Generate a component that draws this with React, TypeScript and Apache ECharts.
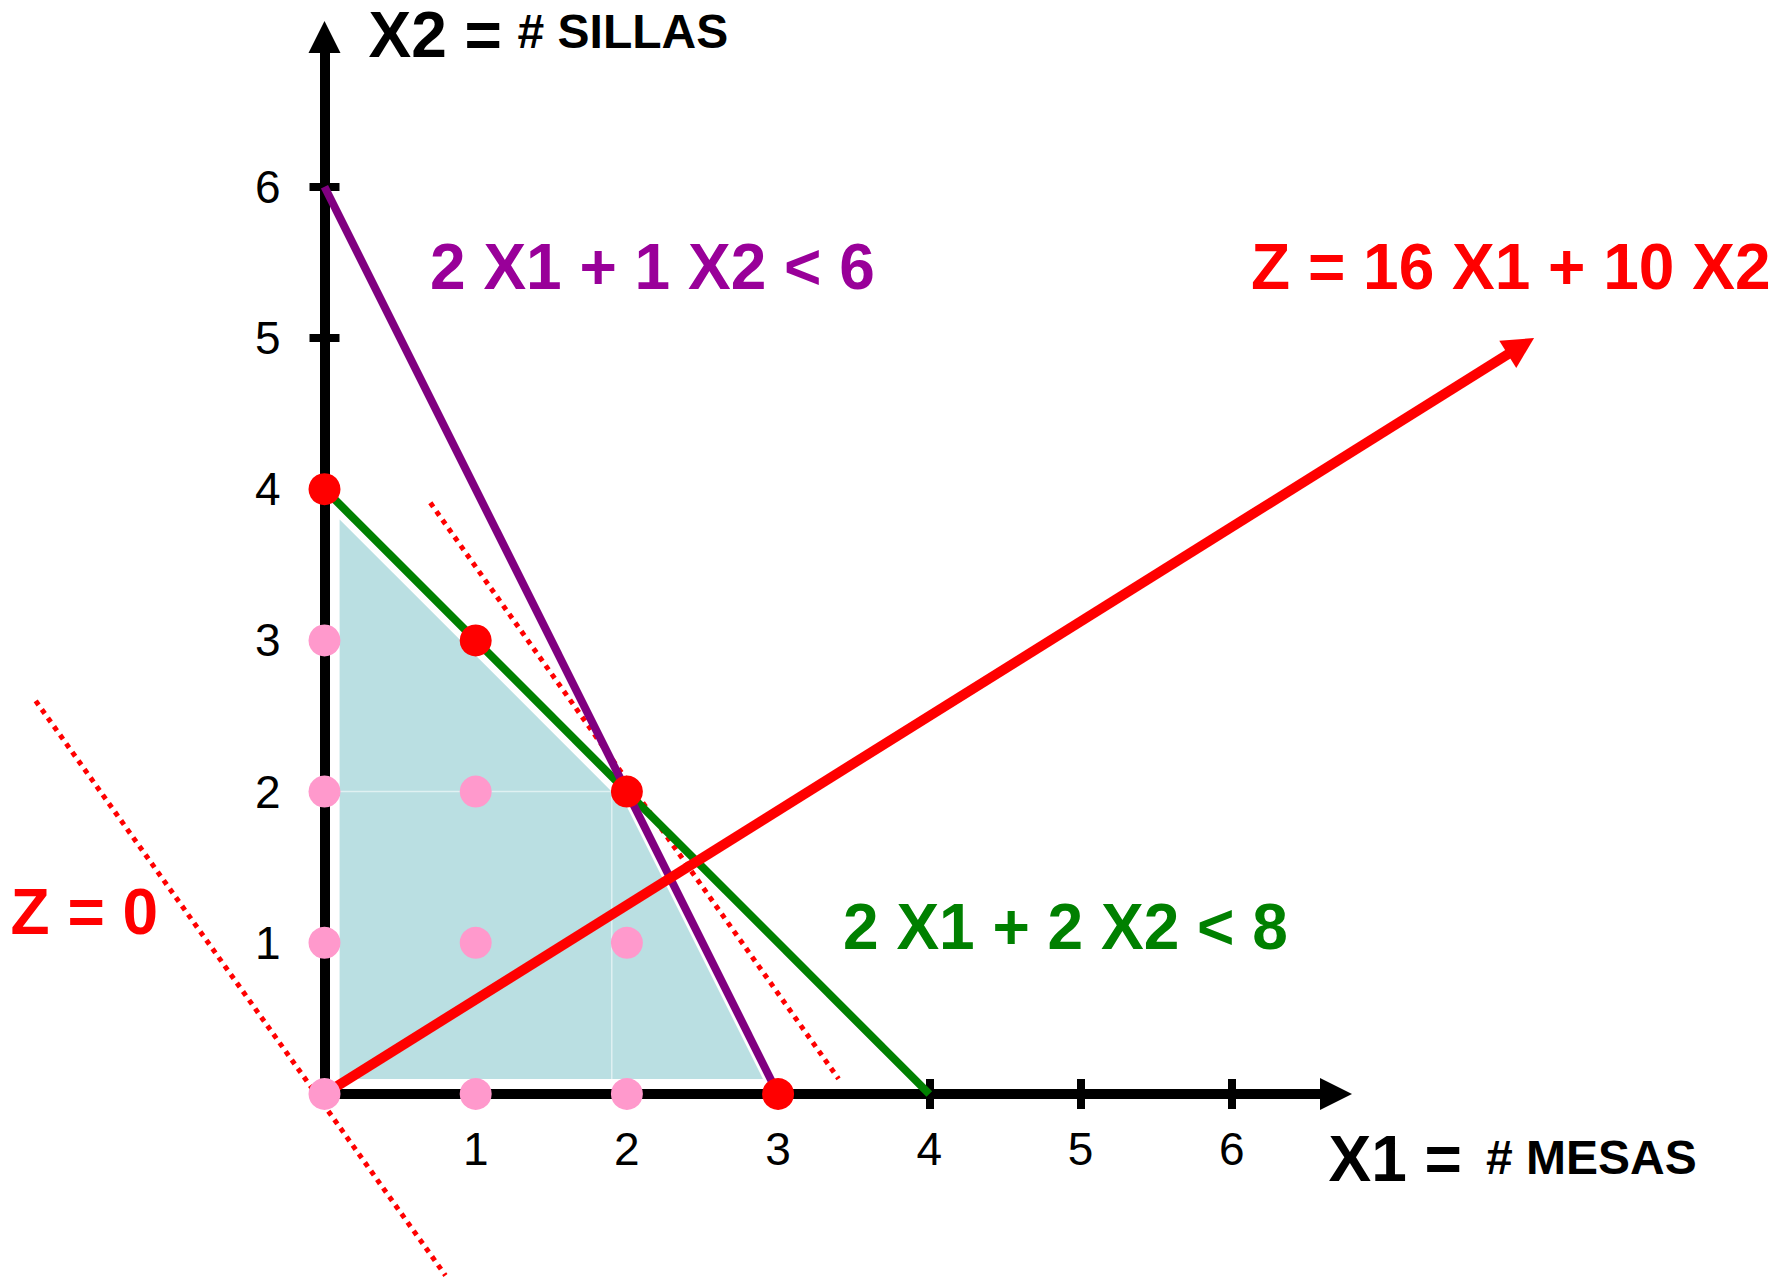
import React, { useEffect, useRef } from "react";
import * as echarts from "echarts";

// ---- data (in chart units: X1 = # mesas, X2 = # sillas) ----
const X_TICKS = [1, 2, 3, 4, 5, 6];
const Y_TICKS = [1, 2, 3, 4, 5, 6];

// feasible region (drawn slightly inset, as in the picture)
const REGION = [
  [0.1, 0.1],
  [2.9, 0.1],
  [2.0, 1.9],
  [0.1, 3.8],
];
const REGION_SEAMS = [
  [[1.9, 0.1], [1.9, 2.0]],
  [[0.1, 2.0], [1.9, 2.0]],
];

// constraints
const GREEN_CONSTRAINT = [[0, 4], [4, 0]]; // 2 X1 + 2 X2 < 8
const PURPLE_CONSTRAINT = [[0, 6], [3, 0]]; // 2 X1 + 1 X2 < 6

// objective direction
const Z_ARROW = [[0, 0], [8, 5]];

// iso-profit dotted lines
const Z0_LINE = [[-1.91, 2.6], [0.8, -1.2]];
const ZOPT_LINE = [[0.7, 3.91], [3.4, 0.1]];

// integer points
const RED_POINTS = [[0, 4], [1, 3], [2, 2], [3, 0]];
const PINK_POINTS = [
  [0, 0], [1, 0], [2, 0],
  [0, 1], [1, 1], [2, 1],
  [0, 2], [1, 2],
  [0, 3],
];

const FONT = '"Liberation Sans", Arial, Helvetica, sans-serif';

function segmentSeries(segs: number[][][], color: string, width: number, dash: number[] | null, z: number) {
  return {
    type: "custom",
    z,
    clip: false,
    silent: true,
    data: segs.map((s) => [s[0][0], s[0][1], s[1][0], s[1][1]]),
    encode: { x: [0, 2], y: [1, 3] },
    renderItem: (_params: any, api: any) => {
      const p1 = api.coord([api.value(0), api.value(1)]);
      const p2 = api.coord([api.value(2), api.value(3)]);
      return {
        type: "line",
        shape: { x1: p1[0], y1: p1[1], x2: p2[0], y2: p2[1] },
        style: {
          stroke: color,
          lineWidth: width,
          lineDash: dash || undefined,
          lineCap: "butt",
          fill: null,
        },
      };
    },
  };
}

export default function App() {
  const ref = useRef<HTMLDivElement>(null);

  useEffect(() => {
    if (!ref.current) return;
    const chart = echarts.init(ref.current, undefined, { renderer: "svg" });

    const axisLabelStyle = {
      color: "#000",
      fontSize: 46,
      fontFamily: FONT,
      fontWeight: "normal",
    };
    const tickStyle = { color: "#000", width: 8 };

    const option: any = {
      animation: false,
      backgroundColor: "#fff",
      grid: {
        left: 324.5,
        right: 453,
        top: 37.1,
        bottom: 185,
        containLabel: false,
        outerBoundsMode: "none",
      },
      xAxis: [
        {
          type: "value",
          min: 0,
          max: 6.69,
          position: "bottom",
          axisLine: {
            show: true,
            onZero: false,
            symbol: ["none", "triangle"],
            symbolSize: [32, 32],
            lineStyle: { color: "#000", width: 10 },
          },
          axisTick: { show: true, customValues: X_TICKS, length: 15, inside: false, lineStyle: tickStyle },
          axisLabel: { show: true, customValues: X_TICKS, margin: 32, ...axisLabelStyle },
          splitLine: { show: false },
        },
        {
          type: "value",
          min: 0,
          max: 6.69,
          position: "bottom",
          axisLine: { show: false, onZero: false },
          axisTick: { show: true, customValues: X_TICKS, length: 15, inside: true, lineStyle: tickStyle },
          axisLabel: { show: false },
          splitLine: { show: false },
        },
      ],
      yAxis: [
        {
          type: "value",
          min: 0,
          max: 6.99,
          position: "left",
          axisLine: {
            show: true,
            onZero: false,
            symbol: ["none", "triangle"],
            symbolSize: [32, 32],
            lineStyle: { color: "#000", width: 10 },
          },
          axisTick: { show: true, customValues: Y_TICKS, length: 15, inside: false, lineStyle: tickStyle },
          axisLabel: { show: true, customValues: Y_TICKS, margin: 44, ...axisLabelStyle },
          splitLine: { show: false },
        },
        {
          type: "value",
          min: 0,
          max: 6.99,
          position: "left",
          axisLine: { show: false, onZero: false },
          axisTick: { show: true, customValues: Y_TICKS, length: 15, inside: true, lineStyle: tickStyle },
          axisLabel: { show: false },
          splitLine: { show: false },
        },
      ],
      series: [
        // feasible region
        {
          type: "custom",
          z: 1,
          clip: false,
          silent: true,
          data: REGION,
          encode: { x: 0, y: 1 },
          renderItem: (params: any, api: any) => {
            if (params.dataIndex !== 0) return null;
            const pts = REGION.map((p) => api.coord(p));
            const seams = REGION_SEAMS.map((s) => {
              const a = api.coord(s[0]);
              const b = api.coord(s[1]);
              return {
                type: "line",
                shape: { x1: a[0], y1: a[1], x2: b[0], y2: b[1] },
                style: { stroke: "rgba(255,255,255,0.55)", lineWidth: 1.5, fill: null },
              };
            });
            return {
              type: "group",
              children: [
                { type: "polygon", shape: { points: pts }, style: { fill: "#BADFE2", stroke: null } },
                ...seams,
              ],
            };
          },
        },
        // dotted iso-profit lines
        segmentSeries([Z0_LINE, ZOPT_LINE], "#FF0000", 5, [5, 5.5], 2),
        // constraints
        segmentSeries([GREEN_CONSTRAINT], "#008000", 8, null, 3),
        segmentSeries([PURPLE_CONSTRAINT], "#800080", 8, null, 3),
        // objective arrow
        {
          type: "custom",
          z: 4,
          clip: false,
          silent: true,
          data: [[Z_ARROW[0][0], Z_ARROW[0][1], Z_ARROW[1][0], Z_ARROW[1][1]]],
          encode: { x: [0, 2], y: [1, 3] },
          renderItem: (_params: any, api: any) => {
            const a = api.coord([api.value(0), api.value(1)]);
            const b = api.coord([api.value(2), api.value(3)]);
            const dx = b[0] - a[0];
            const dy = b[1] - a[1];
            const len = Math.sqrt(dx * dx + dy * dy);
            const ux = dx / len;
            const uy = dy / len;
            const headLen = 31;
            const headHalf = 16;
            const bx = b[0] - ux * headLen;
            const by = b[1] - uy * headLen;
            const px = -uy;
            const py = ux;
            return {
              type: "group",
              children: [
                {
                  type: "line",
                  shape: { x1: a[0], y1: a[1], x2: bx + ux * 2, y2: by + uy * 2 },
                  style: { stroke: "#FF0000", lineWidth: 10, lineCap: "butt", fill: null },
                },
                {
                  type: "polygon",
                  shape: {
                    points: [
                      [b[0], b[1]],
                      [bx + px * headHalf, by + py * headHalf],
                      [bx - px * headHalf, by - py * headHalf],
                    ],
                  },
                  style: { fill: "#FF0000", stroke: null },
                },
              ],
            };
          },
        },
        // integer points
        {
          type: "scatter",
          z: 5,
          clip: false,
          silent: true,
          symbol: "circle",
          symbolSize: 32,
          data: PINK_POINTS,
          itemStyle: { color: "#FF99CC", opacity: 1 },
        },
        {
          type: "scatter",
          z: 6,
          clip: false,
          silent: true,
          symbol: "circle",
          symbolSize: 32,
          data: RED_POINTS,
          itemStyle: { color: "#FF0000", opacity: 1 },
        },
      ],
      graphic: [
        {
          type: "text",
          x: 368.5,
          y: 35,
          style: { text: "X2 =", font: `bold 64px ${FONT}`, fill: "#000", align: "left", verticalAlign: "middle" },
        },
        {
          type: "text",
          x: 517.5,
          y: 31,
          style: { text: "# SILLAS", font: `bold 48px ${FONT}`, fill: "#000", align: "left", verticalAlign: "middle" },
        },
        {
          type: "text",
          x: 1328.5,
          y: 1158.5,
          style: { text: "X1 =", font: `bold 64px ${FONT}`, fill: "#000", align: "left", verticalAlign: "middle" },
        },
        {
          type: "text",
          x: 1486,
          y: 1157.5,
          style: { text: "# MESAS", font: `bold 48px ${FONT}`, fill: "#000", align: "left", verticalAlign: "middle" },
        },
        {
          type: "text",
          x: 430,
          y: 266.5,
          style: { text: "2 X1 + 1 X2 < 6", font: `bold 64px ${FONT}`, fill: "#990099", align: "left", verticalAlign: "middle" },
        },
        {
          type: "text",
          x: 843,
          y: 926.5,
          style: { text: "2 X1 + 2 X2 < 8", font: `bold 64px ${FONT}`, fill: "#008000", align: "left", verticalAlign: "middle" },
        },
        {
          type: "text",
          x: 1251,
          y: 267,
          style: { text: "Z = 16 X1 + 10 X2", font: `bold 64px ${FONT}`, fill: "#FF0000", align: "left", verticalAlign: "middle" },
        },
        {
          type: "text",
          x: 10.5,
          y: 912,
          style: { text: "Z = 0", font: `bold 64px ${FONT}`, fill: "#FF0000", align: "left", verticalAlign: "middle" },
        },
      ],
    };

    chart.setOption(option);
    return () => {
      chart.dispose();
    };
  }, []);

  return (
    <div
      ref={ref}
      style={{ position: "absolute", left: 0, top: 0, width: 1789, height: 1279, background: "#fff" }}
    />
  );
}
